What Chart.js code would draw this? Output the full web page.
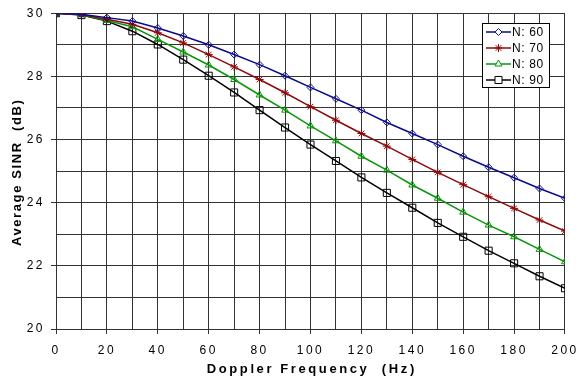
<!DOCTYPE html>
<html>
<head>
<meta charset="utf-8">
<script src="https://cdn.jsdelivr.net/npm/chart.js@4/dist/chart.umd.min.js"></script>
<style>
  html, body { margin: 0; padding: 0; background: #fff; }
  #wrap { width: 584px; height: 380px; }
</style>
</head>
<body>
<div id="wrap"><canvas id="sinrChart" width="584" height="380"></canvas></div>
<script>
// SINR vs Doppler frequency for different N
const freqs = [0, 10, 20, 30, 40, 50, 60, 70, 80, 90, 100, 110, 120, 130, 140, 150, 160, 170, 180, 190, 200];
const sinrN60 = [30, 29.97, 29.86, 29.75, 29.53, 29.28, 29.00, 28.69, 28.37, 28.02, 27.65, 27.29, 26.93, 26.54, 26.19, 25.84, 25.47, 25.12, 24.79, 24.45, 24.14];
const sinrN70 = [30, 29.96, 29.81, 29.65, 29.38, 29.06, 28.69, 28.30, 27.90, 27.48, 27.04, 26.61, 26.19, 25.79, 25.37, 24.96, 24.57, 24.19, 23.82, 23.45, 23.10];
const sinrN80 = [30, 29.95, 29.77, 29.57, 29.17, 28.77, 28.36, 27.90, 27.41, 26.93, 26.43, 25.96, 25.47, 25.03, 24.56, 24.14, 23.70, 23.29, 22.92, 22.52, 22.13];
const sinrN90 = [30, 29.94, 29.75, 29.43, 29.01, 28.53, 28.02, 27.49, 26.93, 26.38, 25.84, 25.32, 24.80, 24.31, 23.84, 23.36, 22.92, 22.48, 22.08, 21.67, 21.29];
const seriesLabels = ['N: 60', 'N: 70', 'N: 80', 'N: 90'];
const xTickLabels = [0, 20, 40, 60, 80, 100, 120, 140, 160, 180, 200];
const yTickLabels = [20, 22, 24, 26, 28, 30];
const xTitle = 'Doppler Frequency  (Hz)';
const yTitle = 'Average SINR  (dB)';

const colors = ['#0a0a8c', '#8c0a0a', '#0a960a', '#000000'];
const styles = ['rectRot', 'star', 'triangle', 'rect'];
const radii = [3.5, 4, 4, 5];
const allSeries = [sinrN60, sinrN70, sinrN80, sinrN90];

const FONT = '"Liberation Sans", Arial, sans-serif';

const datasets = allSeries.map((vals, i) => ({
	label: seriesLabels[i],
	data: vals.map((v, j) => ({ x: freqs[j], y: v })),
	borderColor: colors[i],
	backgroundColor: 'rgba(0,0,0,0)',
	borderWidth: 1.5,
	pointStyle: styles[i],
	pointRadius: radii[i],
	pointBorderColor: colors[i],
	pointBorderWidth: 1,
	pointBackgroundColor: 'rgba(0,0,0,0)',
	tension: 0,
}));

// spaced-out tick text
const spacing = {
	id: 'spacing',
	beforeDraw(chart) {
		chart.ctx.letterSpacing = '2.5px';
	},
};

// axis titles, drawn by hand so the letter spacing can differ per axis
const axisTitles = {
	id: 'axisTitles',
	afterDraw(chart) {
		const ctx = chart.ctx;
		const area = chart.chartArea;
		ctx.save();
		ctx.fillStyle = '#000';
		ctx.font = 'bold 13px ' + FONT;
		ctx.textAlign = 'center';
		ctx.textBaseline = 'alphabetic';
		ctx.letterSpacing = '2.6px';
		ctx.fillText(xTitle, (area.left + area.right) / 2 + 1.3, 373);
		ctx.translate(21, (area.top + area.bottom) / 2 + 2);
		ctx.rotate(-Math.PI / 2);
		ctx.letterSpacing = '1.6px';
		ctx.fillText(yTitle, 0.8, 0);
		ctx.restore();
	},
};

// boxed legend with line + marker samples
const boxLegend = {
	id: 'boxLegend',
	afterDraw(chart) {
		const ctx = chart.ctx;
		const left = 482, top = 23, w = 67, h = 64;
		ctx.save();
		ctx.fillStyle = '#fff';
		ctx.fillRect(left, top, w, h);
		ctx.strokeStyle = '#000';
		ctx.lineWidth = 1;
		ctx.strokeRect(left + 0.5, top + 0.5, w, h);
		ctx.letterSpacing = '0.6px';
		ctx.font = '12px ' + FONT;
		ctx.textBaseline = 'middle';
		chart.data.datasets.forEach((ds, i) => {
			const y = top + 9 + i * 16;
			ctx.strokeStyle = ds.borderColor;
			ctx.lineWidth = 1.5;
			ctx.beginPath();
			ctx.moveTo(left + 4, y);
			ctx.lineTo(left + 29, y);
			ctx.stroke();
			ctx.lineWidth = 1;
			ctx.fillStyle = '#fff';
			Chart.helpers.drawPoint(ctx, {
				pointStyle: ds.pointStyle,
				radius: ds.pointRadius,
				borderWidth: 1,
				rotation: 0,
			}, left + 16.5, y);
			ctx.fillStyle = '#000';
			ctx.fillText(ds.label, left + 30, y + 0.5);
		});
		ctx.restore();
	},
};

new Chart(document.getElementById('sinrChart'), {
	type: 'line',
	data: { datasets },
	plugins: [spacing, axisTitles, boxLegend],
	options: {
		responsive: false,
		animation: false,
		layout: { padding: { left: 0, right: 13, top: 13, bottom: 0 } },
		plugins: {
			legend: { display: false },
			tooltip: { enabled: false },
		},
		scales: {
			x: {
				type: 'linear',
				min: 0,
				max: 200,
				afterFit(scale) { scale.height = 51; },
				afterBuildTicks(scale) {
					scale.ticks = freqs.map(v => ({ value: v }));
				},
				ticks: {
					autoSkip: false,
					maxRotation: 0,
					padding: 9,
					color: '#000',
					font: { family: FONT, size: 12 },
					callback: v => (xTickLabels.includes(v) ? String(v) : ''),
				},
				grid: {
					color: '#333',
					lineWidth: 1,
					tickLength: 5,
					tickColor: c => (c.tick && xTickLabels.includes(c.tick.value) ? '#333' : 'rgba(0,0,0,0)'),
				},
				border: { color: '#333' },
			},
			y: {
				min: 20,
				max: 30,
				afterFit(scale) { scale.width = 56; },
				afterBuildTicks(scale) {
					const t = [];
					for (let v = 20; v <= 30; v++) t.push({ value: v });
					scale.ticks = t;
				},
				ticks: {
					autoSkip: false,
					padding: 6,
					color: '#000',
					font: { family: FONT, size: 12 },
					callback: v => (yTickLabels.includes(v) ? String(v) : ''),
				},
				grid: {
					color: '#333',
					lineWidth: 1,
					tickLength: 5,
					tickColor: c => (c.tick && yTickLabels.includes(c.tick.value) ? '#333' : 'rgba(0,0,0,0)'),
				},
				border: { color: '#333' },
			},
		},
	},
});
</script>
</body>
</html>
